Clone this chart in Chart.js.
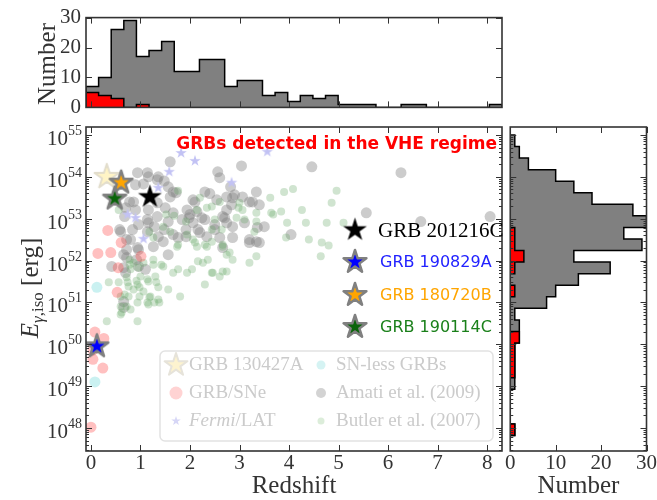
<!DOCTYPE html>
<html>
<head>
<meta charset="utf-8">
<script src="https://cdn.jsdelivr.net/npm/chart.js@4.4.1/dist/chart.umd.min.js"></script>
<style>
  body { margin: 0; background: #fff; }
  #wrap { position: relative; width: 657px; height: 500px; overflow: hidden; }
  canvas { position: absolute; }
  #zhist { left: 0; top: 0; }
  #main { left: 0; top: 120px; }
  #ehist { left: 505px; top: 120px; }
</style>
</head>
<body>
<div id="wrap">
  <canvas id="zhist" width="505" height="125"></canvas>
  <canvas id="main" width="505" height="380"></canvas>
  <canvas id="ehist" width="152" height="380"></canvas>
</div>
<script>
// redshift axis and histogram bins (equal width, Z_LO .. Z_HI)
const Z_LO = -0.1, Z_HI = 8.3;
const zCountAll = [7, 10, 26, 29, 17, 19, 22, 12, 12, 16, 16, 7, 9, 9, 4, 5, 2, 4, 3, 4,
                   1, 1, 1, 0, 0, 1, 1, 0, 0, 0, 0, 0, 1];
const zCountSN = [5, 4, 3, 0, 1];

// log10(E_iso) axis and histogram bins (equal width starting at E_BIN_LO)
const E_AX_LO = 47.45, E_AX_HI = 55.19;
const E_BIN_LO = 47.82, E_BIN_HI = 55.0;
const eCountAll = [1, 0, 0, 0, 1, 1, 1, 1, 2, 2, 1, 8, 10, 15, 22, 14, 29, 25, 30, 27, 18, 14, 10, 4, 2, 1];
const eCountSN = [1, 0, 0, 0, 0, 1, 1, 1, 2, 0, 0, 0, 1, 0, 1, 3, 1, 1];

// tick values
const zTicks = [0, 1, 2, 3, 4, 5, 6, 7, 8];
const eTicks = [48, 49, 50, 51, 52, 53, 54, 55];
const countTicks = [0, 10, 20, 30];

// [redshift, log10 E_iso] samples
const amati = [[1.60,54.36],[3.04,54.26],[2.56,54.12],[2.60,53.98],[0.94,54.10],[1.14,54.10],[1.34,53.93],[1.48,53.90],
  [1.06,53.83],[0.90,53.81],[1.56,53.76],[1.66,53.64],[2.10,53.40],[2.54,53.45],[2.40,53.60],[2.86,53.50],[3.06,53.52],
  [3.20,53.40],[2.74,53.21],[0.86,53.40],[0.70,53.26],[0.90,53.21],[1.16,53.21],[1.34,53.38],[1.50,53.26],[1.60,53.52],
  [1.66,53.14],[0.96,52.86],[1.14,52.98],[1.34,53.05],[1.84,52.98],[1.94,53.21],[2.06,52.90],[2.30,52.98],[2.70,53.02],
  [2.86,52.81],[3.10,52.90],[2.50,52.74],[2.20,52.67],[0.60,52.69],[0.84,52.74],[1.14,52.69],[1.36,52.57],[1.46,52.45],
  [1.66,52.62],[2.60,52.55],[2.86,52.55],[3.20,52.43],[0.80,52.50],[0.94,52.31],[1.26,52.33],[0.66,52.14],[0.96,51.86],
  [1.10,51.79],[0.70,51.71],[0.66,51.02],[0.66,50.88],[4.46,54.24],[6.26,54.10],[5.56,53.14],[6.66,52.93],[8.06,53.05],
  [4.04,52.62],[3.34,53.64],[3.40,53.33],[3.26,53.40],[3.50,52.81],[3.36,52.79],[3.34,52.45],[0.42,51.86],[0.66,51.83],
  [0.72,52.07],[0.92,52.02],[0.96,52.26],[0.72,52.26],[1.56,52.14],[2.66,52.31],[2.82,53.76],[2.30,53.64],[2.06,53.45],
  [2.74,53.52],[2.90,53.57],[2.84,53.33],[2.00,53.10],[2.14,53.17],[2.24,53.02],[2.66,53.05],[2.74,52.90],[2.50,52.86],
  [2.16,52.74],[2.34,52.57],[3.20,52.50],[3.40,52.43],[0.78,53.40],[0.68,53.05],[0.58,52.74],[0.72,52.50],[1.72,53.62],
  [1.92,52.74],[1.98,53.02],[1.16,52.90],[1.28,52.81],[1.48,52.74],[1.76,52.55],[1.92,52.57],[1.56,52.93],[1.16,54.00],
  [1.36,54.00]];

const butler = [[1.76,53.67],[2.20,53.50],[2.34,53.26],[2.14,53.21],[2.98,53.26],[1.46,52.81],[1.60,52.69],[1.26,52.55],
  [1.74,52.33],[1.94,52.62],[2.10,52.43],[2.44,52.45],[2.66,52.33],[2.80,52.19],[3.20,51.95],[2.86,52.02],[2.26,51.95],
  [2.46,51.71],[2.74,51.74],[1.94,51.71],[1.66,51.71],[1.46,51.86],[1.26,52.02],[1.06,51.95],[0.86,51.95],[0.80,51.79],
  [1.00,51.62],[1.14,51.55],[1.30,51.62],[0.74,51.48],[0.56,51.48],[0.94,51.43],[0.86,51.31],[1.06,51.26],[1.20,51.14],
  [1.36,51.07],[1.80,51.14],[2.30,51.43],[0.60,51.14],[0.76,51.14],[0.94,51.00],[1.14,51.00],[0.60,50.90],[0.80,50.83],
  [0.36,51.48],[0.56,53.21],[3.90,53.64],[4.08,53.71],[4.96,53.67],[3.62,53.50],[3.84,53.17],[3.68,53.10],[4.26,53.21],
  [4.86,53.38],[3.34,53.14],[3.34,52.93],[3.96,52.90],[4.34,52.90],[4.76,52.90],[5.10,52.90],[4.40,52.50],[4.66,52.43],
  [4.80,52.36],[4.64,52.10],[3.34,52.10],[0.32,50.55],[0.94,50.55],[0.60,50.71],[0.72,51.60],[0.76,51.38],[0.92,51.52],
  [0.98,51.36],[0.68,51.19],[0.98,51.14],[1.18,51.12],[1.16,50.95],[1.28,51.00],[1.38,51.00],[0.72,50.90],[0.62,50.76],
  [1.36,51.36],[1.56,51.31],[1.16,51.50],[1.32,51.48],[1.76,51.79],[1.42,51.90],[1.26,51.90],[0.96,51.83],[0.78,51.90],
  [0.78,52.02],[2.14,52.33],[2.34,52.33],[2.74,52.14],[2.16,51.98],[2.36,52.02],[2.04,51.79],[2.44,51.71],[2.60,51.62],
  [2.66,51.74],[2.44,53.29],[2.60,53.40],[3.00,53.38],[3.06,53.21],[2.94,53.02],[3.64,53.14],[3.10,52.98],[2.50,52.98],
  [2.44,52.74],[2.64,52.74],[2.06,52.50],[3.30,52.69],[3.94,52.55],[2.30,52.38],[2.66,52.38],[1.52,53.10],[1.68,53.07],
  [1.18,52.69],[1.92,52.93],[1.76,52.38]];

const grbSN = [[0.14,52.17],[0.34,52.72],[0.61,52.43],[0.40,52.19],[0.55,51.83],[1.01,52.10],[0.53,51.24],
  [0.08,50.29],[0.04,49.64],[0.24,49.43],[0.00,48.02],[0.26,50.14],[0.04,49.86]];
const snLess = [[0.12,51.36],[0.08,49.10]];
const fermiLAT = [[1.82,54.57],[2.10,54.38],[1.58,54.12],[1.36,53.74],[0.74,53.10],[0.90,53.02],[1.06,52.52],
  [2.84,53.86],[3.56,54.60]];
const grb130427A = [[0.32, 54.0]];

// bursts detected at very high energies
const vheNames = ['GRB 201216C', 'GRB 190829A', 'GRB 180720B', 'GRB 190114C'];
const vheZ = [1.19, 0.12, 0.61, 0.48];
const vheLogE = [53.52, 49.95, 53.86, 53.48];

// ---------------------------------------------------------------------------
const SERIF = '"Liberation Serif", "Times New Roman", serif';
const SANS = '"DejaVu Sans", sans-serif';
const INK = '#333';

Chart.defaults.font.family = SERIF;
Chart.defaults.color = INK;
Chart.defaults.animation = false;
Chart.defaults.events = [];
Chart.defaults.plugins.legend.display = false;
Chart.defaults.plugins.tooltip.enabled = false;

const toXY = pts => pts.map(([x, y]) => ({x, y}));

// outline of a filled step histogram: [edge, count] corners
function stepOutline(lo, width, counts) {
  const pts = [[lo, 0]];
  counts.forEach((c, i) => pts.push([lo + i * width, c], [lo + (i + 1) * width, c]));
  pts.push([lo + counts.length * width, 0]);
  return pts;
}

function starImage(r, fill, edge, lw) {
  const pad = Math.ceil((lw || 0) / 2) + 2;
  const size = Math.ceil(2 * r) + 2 * pad;
  const c = document.createElement('canvas');
  c.width = c.height = size;
  const g = c.getContext('2d');
  g.translate(size / 2, size / 2);
  g.beginPath();
  for (let i = 0; i < 10; i++) {
    const rr = i % 2 ? r * 0.382 : r;
    const a = -Math.PI / 2 + i * Math.PI / 5;
    g.lineTo(rr * Math.cos(a), rr * Math.sin(a));
  }
  g.closePath();
  g.fillStyle = fill;
  g.fill();
  if (lw) {
    g.lineJoin = 'round';
    g.lineWidth = lw;
    g.strokeStyle = edge;
    g.stroke();
  }
  return c;
}

const vheStars = [
  starImage(12.5, '#000000'),
  starImage(12, '#0000ff', '#808080', 2.5),
  starImage(12, '#ffa500', '#808080', 2.5),
  starImage(12, '#0a640a', '#808080', 2.5)
];
const vheText = [
  {font: '21px ' + SERIF, color: '#000', dx: 23},
  {font: '16px ' + SANS, color: '#2222ff', dx: 25},
  {font: '16px ' + SANS, color: '#ffa500', dx: 25},
  {font: '16px ' + SANS, color: '#1a801a', dx: 25}
];
const star130427A = starImage(13, '#fff4c6', '#e2ddcc', 2);
const starFermi = starImage(6, '#c2c2f4');
const legendStar130427A = starImage(12, '#fdf3cf', '#e6e3da', 2);
const legendStarFermi = starImage(5, '#d6d6f6');

function logMinor(lo, hi) {
  const v = [];
  for (let n = Math.floor(lo); n < hi; n++) {
    for (let k = 2; k <= 9; k++) {
      const t = n + Math.log10(k);
      if (t > lo && t < hi) v.push(t);
    }
  }
  return v;
}

// box around the plot area plus inward ticks on all four sides
const frameTicks = {
  id: 'frameTicks',
  afterDatasetsDraw(chart, args, o) {
    const {ctx, chartArea: a, scales: {x, y}} = chart;
    ctx.save();
    ctx.strokeStyle = INK;
    ctx.lineWidth = 1;
    const seg = (x1, y1, x2, y2) => { ctx.beginPath(); ctx.moveTo(x1, y1); ctx.lineTo(x2, y2); ctx.stroke(); };
    const xt = (vals, len) => vals.forEach(v => {
      const p = Math.round(x.getPixelForValue(v)) + 0.5;
      seg(p, a.bottom, p, a.bottom - len);
      seg(p, a.top, p, a.top + len);
    });
    const yt = (vals, len) => vals.forEach(v => {
      const p = Math.round(y.getPixelForValue(v)) + 0.5;
      seg(a.left, p, a.left + len, p);
      seg(a.right, p, a.right - len, p);
    });
    xt(o.xMajor || [], 6);
    xt(o.xMinor || [], 3);
    yt(o.yMajor || [], 6);
    yt(o.yMinor || [], 3);
    ctx.lineWidth = 1.6;
    ctx.strokeRect(a.left, a.top, a.right - a.left, a.bottom - a.top);
    ctx.restore();
  }
};

function rotatedText(ctx, parts, bx, cy) {
  ctx.save();
  ctx.translate(bx, cy);
  ctx.rotate(-Math.PI / 2);
  ctx.fillStyle = INK;
  ctx.textBaseline = 'alphabetic';
  let w = 0;
  parts.forEach(p => { ctx.font = p.font; p.w = ctx.measureText(p.text).width; w += p.w; });
  let x = -w / 2;
  parts.forEach(p => { ctx.font = p.font; ctx.fillText(p.text, x, p.dy || 0); x += p.w; });
  ctx.restore();
}

function bottomTitle(chart, text) {
  const {ctx, chartArea: a} = chart;
  ctx.save();
  ctx.font = '25px ' + SERIF;
  ctx.fillStyle = INK;
  ctx.textAlign = 'center';
  ctx.textBaseline = 'alphabetic';
  ctx.fillText(text, (a.left + a.right) / 2, chart.height - 7);
  ctx.restore();
}

const zhistDecor = {
  id: 'zhistDecor',
  afterDraw(chart) {
    rotatedText(chart.ctx, [{text: 'Number', font: '25px ' + SERIF}], 55, 64);
  }
};

const ehistDecor = {
  id: 'ehistDecor',
  afterDraw(chart) { bottomTitle(chart, 'Number'); }
};

const mainDecor = {
  id: 'mainDecor',
  afterDatasetsDraw(chart) {
    const {ctx, chartArea: a, scales: {x, y}} = chart;
    ctx.save();

    // 10^n labels on the energy axis
    ctx.fillStyle = INK;
    ctx.textAlign = 'right';
    ctx.textBaseline = 'alphabetic';
    eTicks.forEach(p => {
      const py = y.getPixelForValue(p);
      ctx.font = '14px ' + SERIF;
      const sup = String(p);
      const sw = ctx.measureText(sup).width;
      ctx.fillText(sup, a.left - 4, py);
      ctx.font = '21px ' + SERIF;
      ctx.fillText('10', a.left - 4 - sw, py + 10);
    });

    // sample legend, lower right
    const lx = 160, ly = 231, lw = 333, lh = 90;
    ctx.beginPath();
    ctx.roundRect(lx, ly, lw, lh, 5);
    ctx.fillStyle = 'rgba(255,255,255,0.85)';
    ctx.fill();
    ctx.lineWidth = 1.5;
    ctx.strokeStyle = '#e2e2e2';
    ctx.stroke();
    const rows = [ly + 14, ly + 42, ly + 70];
    const c1 = lx + 16, c2 = lx + 161;
    const dot = (cx, cy, r, col) => { ctx.beginPath(); ctx.arc(cx, cy, r, 0, 2 * Math.PI); ctx.fillStyle = col; ctx.fill(); };
    const img = (im, cx, cy) => ctx.drawImage(im, cx - im.width / 2, cy - im.height / 2);
    img(legendStar130427A, c1, rows[0]);
    dot(c1, rows[1], 6.5, '#ffd3d3');
    img(legendStarFermi, c1, rows[2]);
    dot(c2, rows[0], 4.5, '#d5f3f3');
    dot(c2, rows[1], 5, '#d3d3d3');
    dot(c2, rows[2], 3.5, '#dcedda');
    ctx.textAlign = 'left';
    ctx.textBaseline = 'middle';
    ctx.fillStyle = '#cbcbcb';
    ctx.font = '19px ' + SERIF;
    ctx.fillText('GRB 130427A', c1 + 13, rows[0]);
    ctx.fillText('GRB/SNe', c1 + 13, rows[1]);
    ctx.font = 'italic 19px ' + SERIF;
    ctx.fillText('Fermi', c1 + 13, rows[2]);
    const fw = ctx.measureText('Fermi').width;
    ctx.font = '19px ' + SERIF;
    ctx.fillText('/LAT', c1 + 13 + fw, rows[2]);
    ctx.fillText('SN-less GRBs', c2 + 15, rows[0]);
    ctx.fillText('Amati et al. (2009)', c2 + 15, rows[1]);
    ctx.fillText('Butler et al. (2007)', c2 + 15, rows[2]);

    // very-high-energy bursts key
    const kx = 355, ky = [110, 142, 175, 207];
    vheNames.forEach((name, i) => {
      img(vheStars[i], kx, ky[i]);
      ctx.font = vheText[i].font;
      ctx.fillStyle = vheText[i].color;
      ctx.fillText(name, kx + vheText[i].dx, ky[i] + 1);
    });

    // heading
    ctx.font = 'bold 17px ' + SANS;
    ctx.fillStyle = '#ff0000';
    ctx.textAlign = 'right';
    ctx.fillText('GRBs detected in the VHE regime', a.right - 5, 25);
    ctx.restore();

    rotatedText(ctx, [
      {text: 'E', font: 'italic 25px ' + SERIF},
      {text: '\u03b3', font: 'italic 17px ' + SERIF, dy: 5},
      {text: ',iso', font: '17px ' + SERIF, dy: 5},
      {text: ' [erg]', font: '25px ' + SERIF}
    ], 38, 168);
    bottomTitle(chart, 'Redshift');
  }
};

const hiddenGrid = {display: false, drawTicks: false};
const noBorder = {display: false};

// ---- redshift histogram
new Chart(document.getElementById('zhist'), {
  type: 'line',
  data: {
    datasets: [
      {data: toXY(stepOutline(Z_LO, (Z_HI - Z_LO) / zCountAll.length, zCountSN)),
       fill: 'origin', backgroundColor: '#ff0000', borderColor: '#000', borderWidth: 1.5, pointRadius: 0, order: 0},
      {data: toXY(stepOutline(Z_LO, (Z_HI - Z_LO) / zCountAll.length, zCountAll)),
       fill: 'origin', backgroundColor: '#808080', borderColor: '#000', borderWidth: 1.5, pointRadius: 0, order: 1}
    ]
  },
  options: {
    responsive: false,
    layout: {padding: {top: 13, right: 3, left: 0, bottom: 0}, autoPadding: false},
    scales: {
      x: {type: 'linear', min: Z_LO, max: Z_HI, ticks: {display: false}, grid: hiddenGrid, border: noBorder,
          afterFit: s => { s.height = 8; }},
      y: {type: 'linear', min: 0, max: 30, ticks: {stepSize: 10, padding: 5, font: {size: 21}, color: INK},
          grid: hiddenGrid, border: noBorder, afterFit: s => { s.width = 86; }}
    },
    plugins: {frameTicks: {xMajor: zTicks, yMajor: countTicks}}
  },
  plugins: [frameTicks, zhistDecor]
});

// ---- redshift vs isotropic energy
new Chart(document.getElementById('main'), {
  type: 'scatter',
  data: {
    datasets: [
      {label: 'VHE', data: vheZ.map((z, i) => ({x: z, y: vheLogE[i]})),
       pointStyle: c => vheStars[c.dataIndex], pointRadius: 12, order: 0},
      {label: 'GRB 130427A', data: toXY(grb130427A), pointStyle: star130427A, pointRadius: 13, order: 1},
      {label: 'Fermi/LAT', data: toXY(fermiLAT), pointStyle: starFermi, pointRadius: 6, order: 2},
      {label: 'SN-less GRBs', data: toXY(snLess), pointRadius: 5.5, borderWidth: 0,
       backgroundColor: 'rgba(80,210,210,0.3)', order: 3},
      {label: 'GRB/SNe', data: toXY(grbSN), pointRadius: 5.5, borderWidth: 0,
       backgroundColor: 'rgba(255,60,60,0.32)', order: 4},
      {label: 'Butler et al. (2007)', data: toXY(butler), pointRadius: 4, borderWidth: 0,
       backgroundColor: 'rgba(100,165,100,0.3)', order: 5},
      {label: 'Amati et al. (2009)', data: toXY(amati), pointRadius: 5.5, borderWidth: 0,
       backgroundColor: 'rgba(128,128,128,0.4)', order: 6}
    ]
  },
  options: {
    responsive: false,
    layout: {padding: {top: 7, right: 3, left: 0, bottom: 0}, autoPadding: false},
    scales: {
      x: {type: 'linear', min: Z_LO, max: Z_HI,
          ticks: {stepSize: 1, includeBounds: false, padding: 0, font: {size: 21}, color: INK},
          grid: hiddenGrid, border: noBorder, afterFit: s => { s.height = 49; }},
      y: {type: 'linear', min: E_AX_LO, max: E_AX_HI, ticks: {display: false},
          grid: hiddenGrid, border: noBorder, afterFit: s => { s.width = 86; }}
    },
    plugins: {frameTicks: {xMajor: zTicks, yMajor: eTicks, yMinor: logMinor(E_AX_LO, E_AX_HI)}}
  },
  plugins: [frameTicks, mainDecor]
});

// ---- isotropic energy histogram (horizontal)
const eWidth = (E_BIN_HI - E_BIN_LO) / eCountAll.length;
const flipXY = pts => pts.map(([e, c]) => ({x: c, y: e}));
new Chart(document.getElementById('ehist'), {
  type: 'line',
  data: {
    datasets: [
      {data: flipXY(stepOutline(E_BIN_LO, eWidth, eCountSN)),
       fill: 'origin', backgroundColor: '#ff0000', borderColor: '#000', borderWidth: 1.5, pointRadius: 0, order: 0},
      {data: flipXY(stepOutline(E_BIN_LO, eWidth, eCountAll)),
       fill: 'origin', backgroundColor: '#808080', borderColor: '#000', borderWidth: 1.5, pointRadius: 0, order: 1}
    ]
  },
  options: {
    responsive: false,
    indexAxis: 'y',
    layout: {padding: {top: 7, right: 9, left: 0, bottom: 0}, autoPadding: false},
    scales: {
      x: {type: 'linear', min: 0, max: 30, ticks: {stepSize: 10, padding: 0, font: {size: 21}, color: INK},
          grid: hiddenGrid, border: noBorder, afterFit: s => { s.height = 49; }},
      y: {type: 'linear', min: E_AX_LO, max: E_AX_HI, ticks: {display: false},
          grid: hiddenGrid, border: noBorder, afterFit: s => { s.width = 5; }}
    },
    plugins: {frameTicks: {xMajor: countTicks, yMajor: eTicks, yMinor: logMinor(E_AX_LO, E_AX_HI)}}
  },
  plugins: [frameTicks, ehistDecor]
});
</script>
</body>
</html>
